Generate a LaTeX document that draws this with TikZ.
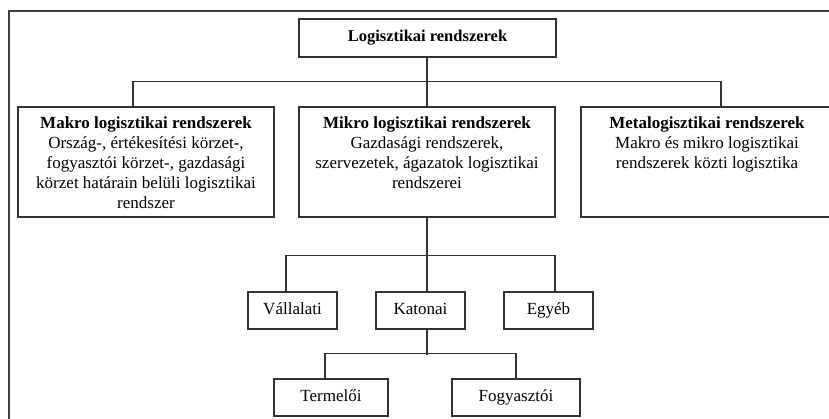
\documentclass[tikz,border=0pt]{standalone}
\usepackage{fontspec}
\setmainfont{Liberation Serif}
\begin{document}
\begin{tikzpicture}[x=1pt,y=-1pt,
  box/.style={draw=black!80,line width=1.4pt,inner sep=0pt,minimum height=#1},
  box/.default=110pt,
  txt/.style={inner sep=0pt,align=center,font=\fontsize{17}{20}\selectfont},
  one/.style={text height=11pt,text depth=4pt},
  conn/.style={draw=black!80,line width=1.4pt},
  frame/.style={draw=black!75,line width=1.6pt}]
\useasboundingbox (0,0) rectangle (829,419);
\clip (0,0) rectangle (829,419);
\draw[frame] (9,11) rectangle (845,435);
% level 1
\node[box=38pt,minimum width=257pt] (top) at (427.5,38) {};
\node[txt,one,font=\fontsize{16.5}{20}\selectfont\bfseries] (toptxt) at (top.center) {Logisztikai rendszerek};
% level 2
\node[box,minimum width=256pt] (makro) at (146,162) {};
\node[box,minimum width=256pt] (mikro) at (427,162) {};
\node[box,minimum width=252pt] (meta) at (707,162) {};
\node[txt,anchor=north] (makrotxt) at (146,116.5) {\textbf{Makro logisztikai rendszerek}\\Ország-, értékesítési körzet-,\\fogyasztói körzet-, gazdasági\\körzet határain belüli logisztikai\\rendszer};
\node[txt,anchor=north] (mikrotxt) at (427,116.5) {\textbf{Mikro logisztikai rendszerek}\\Gazdasági rendszerek,\\szervezetek, ágazatok logisztikai\\rendszerei};
\node[txt,anchor=north] (metatxt) at (707,116.5) {\textbf{Metalogisztikai rendszerek}\\Makro és mikro logisztikai\\rendszerek közti logisztika};
% level 3
\node[box=37pt,minimum width=89pt,txt,one] (vall) at (292.5,310.5) {Vállalati};
\node[box=37pt,minimum width=89pt,txt,one] (kato) at (420.5,310.5) {Katonai};
\node[box=37pt,minimum width=89pt,txt,one] (egyeb) at (548.5,310.5) {Egyéb};
% level 4
\node[box=37pt,minimum width=114pt,txt,one] (term) at (331,397.5) {Termelői};
\node[box=37pt,minimum width=128pt,txt,one] (fogy) at (516,397.5) {Fogyasztói};
% connectors
\draw[conn] (mikro.north |- top.south) -- (mikro.north);
\draw[conn] ([xshift=-13pt]makro.north) -- ++(0,-25) -| ([xshift=14pt]meta.north);
\draw[conn] (mikro.south) -- (mikro.south |- kato.north);
\draw[conn] ([xshift=-6.5pt]vall.north) -- ++(0,-36) -| ([xshift=6.5pt]egyeb.north);
\draw[conn] (mikro.south |- kato.south) -- ++(0,25);
\draw[conn] ([xshift=-6pt]term.north) -- ++(0,-25) -| (fogy.north);
\end{tikzpicture}
\end{document}
